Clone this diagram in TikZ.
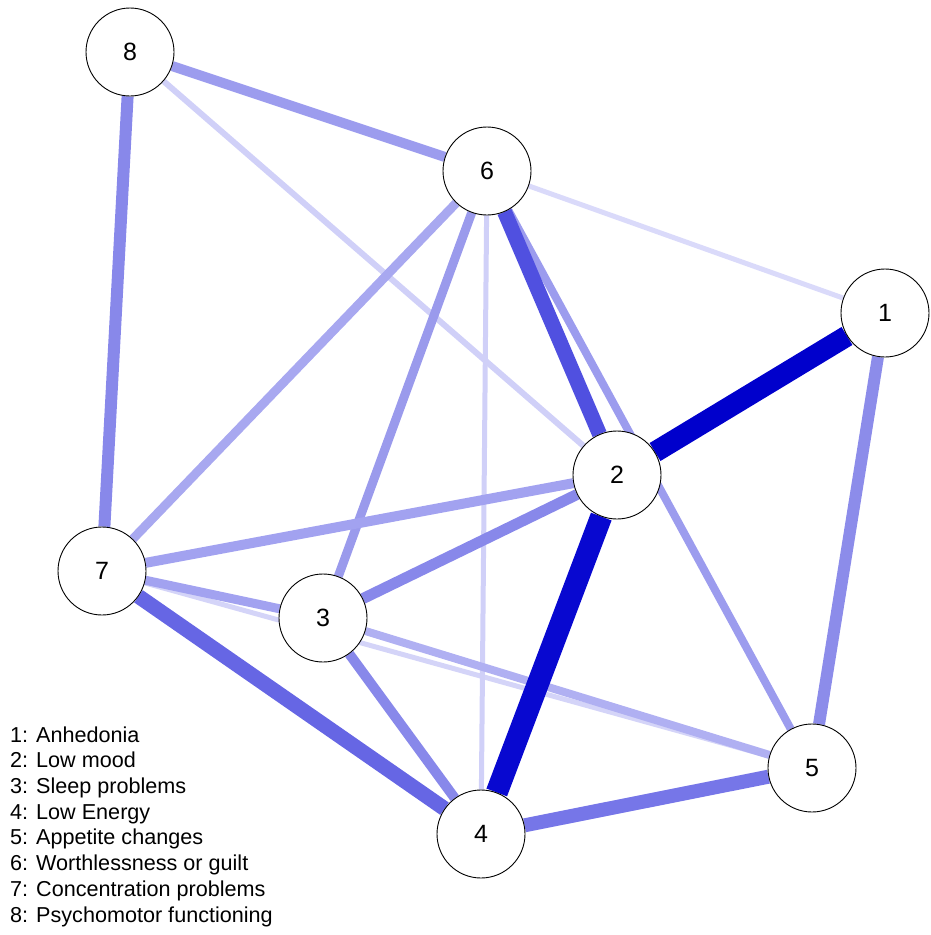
\documentclass[tikz,border=0pt]{standalone}
\usepackage{fontspec}
\setmainfont{Liberation Sans}
\usetikzlibrary{backgrounds}
\definecolor{cA}{RGB}{0,0,204}
\definecolor{cB}{RGB}{8,8,208}
\definecolor{cC}{RGB}{80,80,224}
\definecolor{cD}{RGB}{102,102,228}
\definecolor{cE}{RGB}{118,118,232}
\definecolor{cF}{RGB}{136,136,234}
\definecolor{cG}{RGB}{140,140,234}
\definecolor{cH}{RGB}{156,156,238}
\definecolor{cI}{RGB}{162,162,240}
\definecolor{cJ}{RGB}{154,154,236}
\definecolor{cK}{RGB}{168,168,240}
\definecolor{cL}{RGB}{176,176,242}
\definecolor{cM}{RGB}{208,208,248}
\definecolor{cN}{RGB}{218,218,250}
\definecolor{cO}{RGB}{212,212,248}
\tikzset{
  sym/.style={circle, draw=black, line width=0.9pt, fill=white, minimum size=88pt, inner sep=0pt, font=\fontsize{25}{25}\selectfont},
  edge/.style={line cap=butt}
}
\begin{document}
\begin{tikzpicture}[x=1pt,y=-1pt]
\useasboundingbox (0,0) rectangle (930,935);
\node[sym] (n8) at (130,52) {8};
\node[sym] (n6) at (487,171) {6};
\node[sym] (n1) at (885,313) {1};
\node[sym] (n2) at (617,475) {2};
\node[sym] (n7) at (102,571) {7};
\node[sym] (n3) at (323,618) {3};
\node[sym] (n5) at (812,768) {5};
\node[sym] (n4) at (481,834) {4};
\begin{scope}[on background layer]
\draw[edge, cO, line width=5pt] (n7) -- (n5);
\draw[edge, cN, line width=5pt] (n6) -- (n1);
\draw[edge, cM, line width=5pt] (n6) -- (n4);
\draw[edge, cM, line width=6pt] (n8) -- (n2);
\draw[edge, cL, line width=8pt] (n3) -- (n5);
\draw[edge, cK, line width=9pt] (n6) -- (n7);
\draw[edge, cH, line width=8pt] (n6) -- (n5);
\draw[edge, cJ, line width=9pt] (n6) -- (n3);
\draw[edge, cI, line width=9pt] (n7) -- (n3);
\draw[edge, cI, line width=10pt] (n2) -- (n7);
\draw[edge, cH, line width=10pt] (n8) -- (n6);
\draw[edge, cF, line width=10pt] (n3) -- (n4);
\draw[edge, cF, line width=11pt] (n2) -- (n3);
\draw[edge, cG, line width=12pt] (n1) -- (n5);
\draw[edge, cF, line width=12pt] (n8) -- (n7);
\draw[edge, cE, line width=14pt] (n4) -- (n5);
\draw[edge, cD, line width=15pt] (n7) -- (n4);
\draw[edge, cC, line width=15pt] (n6) -- (n2);
\draw[edge, cB, line width=22pt] (n2) -- (n4);
\draw[edge, cA, line width=21pt] (n1) -- (n2);
\end{scope}
\node[anchor=base west, align=left, inner sep=0pt, font=\fontsize{21.6}{25.7}\selectfont] (legend) at (10,922)
{1: Anhedonia\\2: Low mood\\3: Sleep problems\\4: Low Energy\\5: Appetite changes\\6: Worthlessness or guilt\\7: Concentration problems\\8: Psychomotor functioning};
\end{tikzpicture}
\end{document}
